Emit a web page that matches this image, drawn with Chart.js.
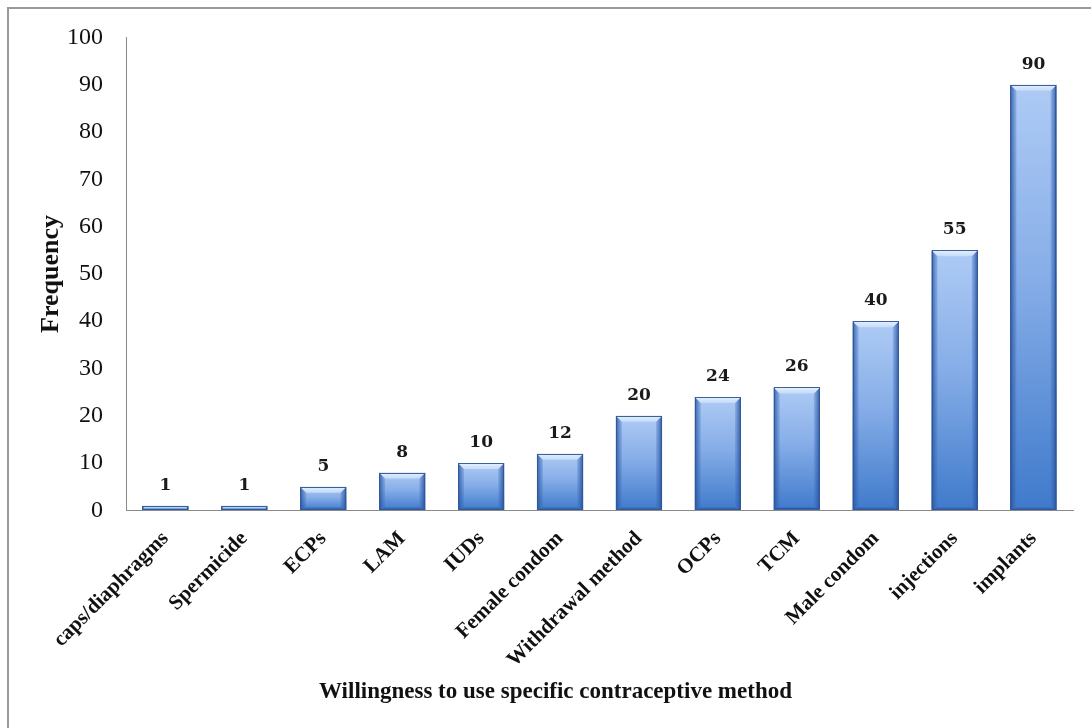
<!DOCTYPE html>
<html>
<head>
<meta charset="utf-8">
<script src="https://cdn.jsdelivr.net/npm/chart.js@4.4.1/dist/chart.umd.min.js"></script>
<style>
  html, body { margin: 0; padding: 0; background: #ffffff; }
  #wrap { width: 1091px; height: 728px; position: relative; }
</style>
</head>
<body>
<div id="wrap"><canvas id="chart" width="1091" height="728"></canvas></div>
<script>
// Contraceptive methods and how many respondents were willing to use each
const categories = ['caps/diaphragms', 'Spermicide', 'ECPs', 'LAM', 'IUDs', 'Female condom',
  'Withdrawal method', 'OCPs', 'TCM', 'Male condom', 'injections', 'implants'];
const frequencies = [1, 1, 5, 8, 10, 12, 20, 24, 26, 40, 55, 90];

// Value axis range
const yMin = 0;
const yMax = 100;
const yStep = 10;

const xTitle = 'Willingness to use specific contraceptive method';
const yTitle = 'Frequency';

const SERIF = '"Liberation Serif", "Times New Roman", serif';

// Vertical light-to-dark fill for each bar
function barFill(ctx) {
  const chart = ctx.chart;
  const yScale = chart.scales.y;
  if (!chart.chartArea || !yScale) return '#6d9de0';
  const top = yScale.getPixelForValue(ctx.raw);
  const base = yScale.getPixelForValue(0);
  const g = chart.ctx.createLinearGradient(0, top, 0, Math.max(base, top + 1));
  g.addColorStop(0, '#aecbf5');
  g.addColorStop(0.45, '#87aee8');
  g.addColorStop(1, '#3f7acb');
  return g;
}

// Bevelled edges on top of each bar
const bevelPlugin = {
  id: 'bevel',
  afterDatasetsDraw(chart) {
    const ctx = chart.ctx;
    const meta = chart.getDatasetMeta(0);
    ctx.save();
    meta.data.forEach((bar) => {
      const p = bar.getProps(['x', 'y', 'base', 'width'], true);
      const x0 = p.x - p.width / 2;
      const x1 = p.x + p.width / 2;
      const top = p.y;
      const base = p.base;
      const h = base - top;
      const b = Math.min(6, h / 2);

      // left edge shade
      let g = ctx.createLinearGradient(x0, 0, x0 + b, 0);
      g.addColorStop(0, 'rgba(35,75,150,0.85)');
      g.addColorStop(1, 'rgba(60,110,190,0.25)');
      ctx.fillStyle = g;
      ctx.beginPath();
      ctx.moveTo(x0, top);
      ctx.lineTo(x0 + b, top + b);
      ctx.lineTo(x0 + b, base - b * 0.4);
      ctx.lineTo(x0, base);
      ctx.closePath();
      ctx.fill();

      // right edge shade
      g = ctx.createLinearGradient(x1 - b, 0, x1, 0);
      g.addColorStop(0, 'rgba(60,110,190,0.25)');
      g.addColorStop(1, 'rgba(35,75,150,0.9)');
      ctx.fillStyle = g;
      ctx.beginPath();
      ctx.moveTo(x1, top);
      ctx.lineTo(x1 - b, top + b);
      ctx.lineTo(x1 - b, base - b * 0.4);
      ctx.lineTo(x1, base);
      ctx.closePath();
      ctx.fill();

      // top highlight
      g = ctx.createLinearGradient(0, top, 0, top + b);
      g.addColorStop(0, 'rgba(235,243,255,0.95)');
      g.addColorStop(1, 'rgba(200,222,250,0.85)');
      ctx.fillStyle = g;
      ctx.beginPath();
      ctx.moveTo(x0, top);
      ctx.lineTo(x1, top);
      ctx.lineTo(x1 - b, top + b);
      ctx.lineTo(x0 + b, top + b);
      ctx.closePath();
      ctx.fill();

      // bottom shadow
      ctx.fillStyle = 'rgba(35,70,140,0.4)';
      ctx.beginPath();
      ctx.moveTo(x0, base);
      ctx.lineTo(x1, base);
      ctx.lineTo(x1 - b, base - b * 0.4);
      ctx.lineTo(x0 + b, base - b * 0.4);
      ctx.closePath();
      ctx.fill();

      // outline
      ctx.strokeStyle = 'rgba(50,88,150,0.95)';
      ctx.lineWidth = 1;
      ctx.strokeRect(Math.round(x0) + 0.5, Math.round(top) + 0.5,
        Math.round(x1 - x0) - 1, Math.max(0, Math.round(base - top) - 1));
    });
    ctx.restore();
  }
};

// Value labels above the bars
const valueLabelPlugin = {
  id: 'valueLabels',
  afterDatasetsDraw(chart) {
    const ctx = chart.ctx;
    const meta = chart.getDatasetMeta(0);
    const values = chart.data.datasets[0].data;
    ctx.save();
    ctx.font = 'bold 17px "DejaVu Serif", serif';
    ctx.fillStyle = '#1a1a1a';
    ctx.textAlign = 'center';
    ctx.textBaseline = 'alphabetic';
    meta.data.forEach((bar, i) => {
      ctx.fillText(String(values[i]), bar.x, bar.y - 16);
    });
    ctx.restore();
  }
};

// Frame lines along the top and left of the figure
const framePlugin = {
  id: 'frame',
  beforeDraw(chart) {
    const ctx = chart.ctx;
    ctx.save();
    ctx.fillStyle = '#ffffff';
    ctx.fillRect(0, 0, chart.width, chart.height);
    ctx.strokeStyle = '#9a9a9a';
    ctx.lineWidth = 2;
    ctx.beginPath();
    ctx.moveTo(8, chart.height);
    ctx.lineTo(8, 8);
    ctx.lineTo(chart.width, 8);
    ctx.stroke();
    ctx.restore();
  }
};

new Chart(document.getElementById('chart'), {
  type: 'bar',
  data: {
    labels: categories,
    datasets: [{
      data: frequencies,
      backgroundColor: barFill,
      borderWidth: 0,
      barPercentage: 0.585,
      categoryPercentage: 1.0
    }]
  },
  options: {
    responsive: false,
    animation: false,
    devicePixelRatio: 1,
    layout: { padding: { left: 38, right: 18, top: 37, bottom: 0 } },
    plugins: {
      legend: { display: false },
      tooltip: { enabled: false },
      title: {
        display: true,
        position: 'bottom',
        text: xTitle,
        color: '#111111',
        font: { family: SERIF, size: 23, weight: 'bold', lineHeight: 1.2 },
        padding: { top: 10, bottom: 22 }
      }
    },
    scales: {
      x: {
        grid: { display: true, color: 'rgba(0,0,0,0)', drawTicks: false },
        border: { display: true, color: '#8a8a8a', width: 1 },
        ticks: {
          color: '#111111',
          font: { family: SERIF, size: 21, weight: 'bold' },
          minRotation: 45,
          maxRotation: 45,
          autoSkip: false,
          padding: 16
        },
        afterFit(scale) { scale.height = 158; }
      },
      y: {
        min: yMin,
        max: yMax,
        grid: { display: true, color: 'rgba(0,0,0,0)', drawTicks: false },
        border: { display: true, color: '#8a8a8a', width: 1 },
        ticks: {
          stepSize: yStep,
          color: '#111111',
          font: { family: SERIF, size: 24 },
          padding: 23
        },
        title: {
          display: true,
          text: yTitle,
          color: '#111111',
          font: { family: SERIF, size: 26, weight: 'bold', lineHeight: 1.0 },
          padding: { top: 0, bottom: 0 }
        },
        afterFit(scale) { scale.width = 88; }
      }
    }
  },
  plugins: [framePlugin, bevelPlugin, valueLabelPlugin]
});
</script>
</body>
</html>
